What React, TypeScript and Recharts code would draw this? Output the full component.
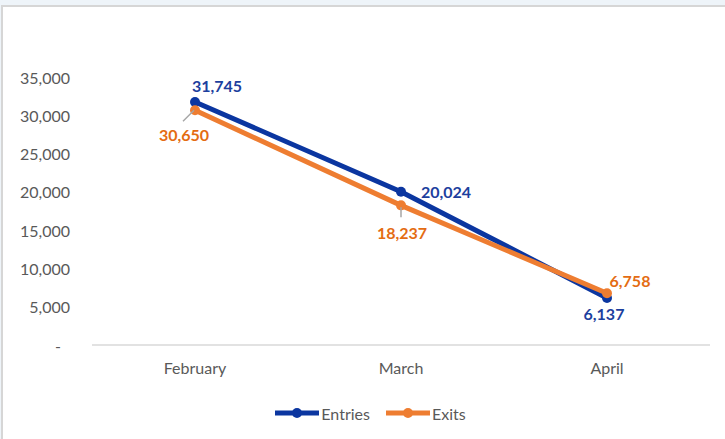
import React from "react";
import { LineChart, Line, XAxis, YAxis, Legend, LabelList } from "recharts";

const months = ["February", "March", "April"];
const entries = [31745, 20024, 6137];
const exits = [30650, 18237, 6758];
const yTicks = [0, 5000, 10000, 15000, 20000, 25000, 30000, 35000];

const data = months.map((m, i) => ({ month: m, entries: entries[i], exits: exits[i] }));

const BLUE = "#0b36a0";
const BLUE_TXT = "#1d3f9e";
const ORANGE = "#ee7d31";
const ORANGE_TXT = "#e46c12";
const AXIS_TXT = "#595959";
const FONT = "Lato, 'Open Sans', sans-serif";

// label placement relative to each point (Excel-style manual positions)
const entryOffsets = [
  { dx: 22, dy: -16 },
  { dx: 45, dy: 0 },
  { dx: -3, dy: 15 },
];
const exitOffsets = [
  { dx: -11, dy: 24, leader: [[-12, 11], [-1, 0]] },
  { dx: 1, dy: 27, leader: [[0, 12], [0, 2]] },
  { dx: 23, dy: -13 },
];

const fmt = (v: number) => v.toLocaleString("en-US");

function makeLabel(offsets: any[], color: string) {
  return (props: any) => {
    const { x, y, value, index } = props;
    const o = offsets[index];
    return (
      <g>
        {o.leader && (
          <line
            x1={x + o.leader[0][0]}
            y1={y + o.leader[0][1]}
            x2={x + o.leader[1][0]}
            y2={y + o.leader[1][1]}
            stroke="#a6a6a6"
            strokeWidth={1.5}
          />
        )}
        <text
          x={x + o.dx}
          y={y + o.dy}
          textAnchor="middle"
          dominantBaseline="central"
          fill={color}
          fontFamily={FONT}
          fontWeight={700}
          fontSize={16}
        >
          {fmt(value)}
        </text>
      </g>
    );
  };
}

function YTick(props: any) {
  const { x, y, payload } = props;
  const v = payload.value;
  return (
    <text
      x={v === 0 ? x - 9 : x}
      y={y}
      textAnchor="end"
      dominantBaseline="central"
      fill={AXIS_TXT}
      fontFamily={FONT}
      fontSize={16}
    >
      {v === 0 ? "-" : fmt(v)}
    </text>
  );
}

function LegendContent() {
  const item = (color: string, label: string, gap: number) => (
    <span style={{ display: "inline-flex", alignItems: "center", marginRight: gap }}>
      <svg width={44} height={12}>
        <line x1={0} y1={6} x2={44} y2={6} stroke={color} strokeWidth={5} strokeLinecap="round" />
        <circle cx={22} cy={6} r={5} fill={color} />
      </svg>
      <span style={{ color: AXIS_TXT, fontFamily: FONT, fontSize: 16, marginLeft: 2 }}>{label}</span>
    </span>
  );
  return (
    <div style={{ height: 22, display: "flex", justifyContent: "center", alignItems: "center", paddingLeft: 16 }}>
      {item(BLUE, "Entries", 16)}
      {item(ORANGE, "Exits", 0)}
    </div>
  );
}

export default function App() {
  return (
    <div style={{ position: "absolute", left: 0, top: 0, width: 725, height: 439, background: "#eef4f9" }}>
      <div
        style={{
          position: "absolute",
          left: 1,
          top: 5,
          right: 0,
          bottom: 0,
          background: "#fff",
          borderTop: "2px solid #d6d6d6",
          borderLeft: "2px solid #d6d6d6",
        }}
      />
      <div style={{ position: "absolute", left: 0, top: 0 }}>
        <LineChart width={725} height={439} data={data} margin={{ top: 77, right: 15, left: 0, bottom: 42 }}>
          <XAxis
            dataKey="month"
            padding={{ left: 103, right: 103 }}
            axisLine={{ stroke: "#d9d9d9", strokeWidth: 1.5 }}
            tickLine={false}
            tickSize={0}
            tickMargin={18}
            height={30}
            tick={{ fill: AXIS_TXT, fontFamily: FONT, fontSize: 16 }}
          />
          <YAxis
            domain={[0, 35000]}
            ticks={yTicks}
            width={92}
            axisLine={false}
            tickLine={false}
            tickSize={0}
            tickMargin={22}
            tick={<YTick />}
          />
          <Legend
            verticalAlign="bottom"
            content={<LegendContent />}
            wrapperStyle={{ top: 402, bottom: "auto", left: 0, width: 725 }}
          />
          <Line
            dataKey="entries"
            name="Entries"
            stroke={BLUE}
            strokeWidth={5}
            dot={{ r: 5, fill: BLUE, stroke: BLUE, strokeWidth: 0 }}
            isAnimationActive={false}
          >
            <LabelList dataKey="entries" content={makeLabel(entryOffsets, BLUE_TXT)} />
          </Line>
          <Line
            dataKey="exits"
            name="Exits"
            stroke={ORANGE}
            strokeWidth={5}
            dot={{ r: 5, fill: ORANGE, stroke: ORANGE, strokeWidth: 0 }}
            isAnimationActive={false}
          >
            <LabelList dataKey="exits" content={makeLabel(exitOffsets, ORANGE_TXT)} />
          </Line>
        </LineChart>
      </div>
    </div>
  );
}
